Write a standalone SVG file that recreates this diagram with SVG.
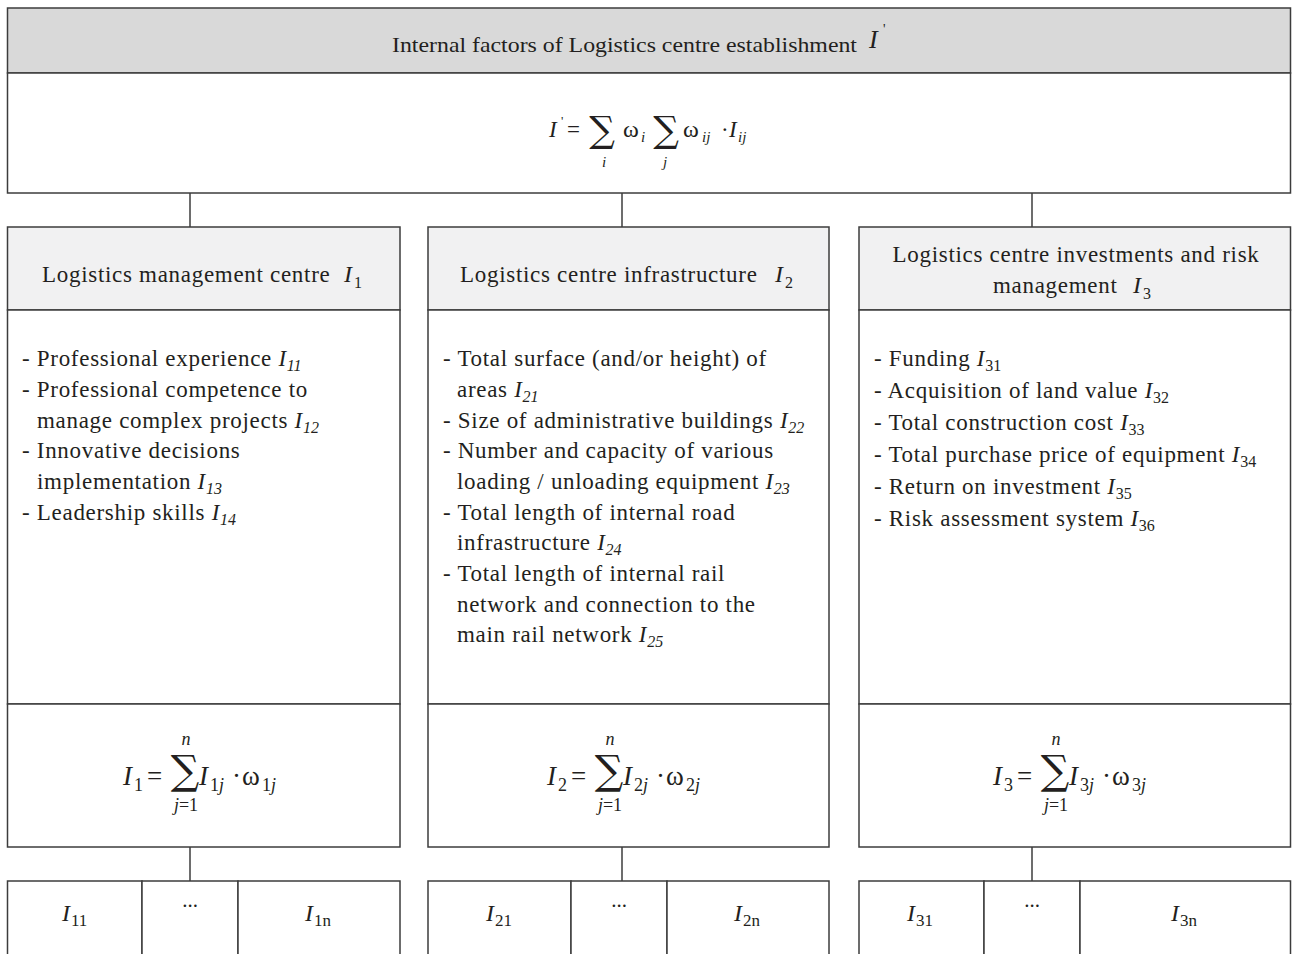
<svg xmlns="http://www.w3.org/2000/svg" width="1293" height="954" viewBox="0 0 1293 954">
<style>
.t{font-family:"Liberation Serif","Times New Roman",serif;font-size:21px;fill:#231f20}
.b{font-size:23px;letter-spacing:0.7px}
.i{font-style:italic}
.s{font-size:16px;letter-spacing:0}
.f{font-size:27px}
.fs{font-size:18px}
.sig{font-family:"DejaVu Serif","Liberation Serif",serif;fill:#231f20}
.box{fill:#ffffff;stroke:#3c3c3c;stroke-width:1.5}
.hd{fill:#d9d9d9;stroke:#3c3c3c;stroke-width:1.5}
.sh{fill:#f1f1f2;stroke:#3c3c3c;stroke-width:1.5}
.ln{stroke:#3c3c3c;stroke-width:1.5;fill:none}
.c{text-anchor:middle}
</style>

<g id="connectors">
<line class="ln" x1="190" y1="193" x2="190" y2="227"/>
<line class="ln" x1="622" y1="193" x2="622" y2="227"/>
<line class="ln" x1="1032" y1="193" x2="1032" y2="227"/>
<line class="ln" x1="190" y1="847" x2="190" y2="881"/>
<line class="ln" x1="622" y1="847" x2="622" y2="881"/>
<line class="ln" x1="1032" y1="847" x2="1032" y2="881"/>
</g>

<g id="top">
<rect class="hd" x="7.5" y="8" width="1283" height="65"/>
<rect class="box" x="7.5" y="73" width="1283" height="120"/>
<text class="t" x="392" y="52" style="font-size:22px" textLength="465" lengthAdjust="spacingAndGlyphs">Internal factors of Logistics centre establishment</text>
<text class="t i" x="869" y="48" style="font-size:26px">I</text>
<text class="t" x="883" y="34" style="font-size:14px">'</text>
<!-- main formula -->
<text class="t i" x="549" y="137" style="font-size:23px">I</text>
<text class="t" x="561" y="125" style="font-size:13px">'</text>
<text class="t" x="567" y="137" style="font-size:23px">=</text>
<text class="sig c" x="602" y="142" style="font-size:36px">∑</text>
<text class="t" x="623" y="137" style="font-size:24px">ω</text>
<text class="t i" x="641" y="142" style="font-size:15px">i</text>
<text class="sig c" x="666" y="142" style="font-size:36px">∑</text>
<text class="t" x="683" y="137" style="font-size:24px">ω</text>
<text class="t i" x="702" y="142" style="font-size:15px">ij</text>
<text class="t" x="721" y="137" style="font-size:23px">·</text>
<text class="t i" x="729" y="137" style="font-size:23px">I</text>
<text class="t i" x="738" y="142" style="font-size:15px">ij</text>
<text class="t i c" x="604" y="167" style="font-size:15px">i</text>
<text class="t i c" x="665" y="167" style="font-size:15px">j</text>
</g>

<g id="col1">
<rect class="sh" x="7.5" y="227" width="392.5" height="83"/>
<rect class="box" x="7.5" y="310" width="392.5" height="394"/>
<text class="t b" x="42" y="282">Logistics management centre</text>
<text class="t i" x="344" y="282" style="font-size:24px">I</text>
<text class="t" x="354" y="288" style="font-size:16px">1</text>
<text class="t b" x="22" y="366">- Professional experience <tspan class="i">I</tspan><tspan class="i s" dy="5">11</tspan></text>
<text class="t b" x="22" y="397">- Professional competence to</text>
<text class="t b" x="37" y="428">manage complex projects <tspan class="i">I</tspan><tspan class="i s" dy="5">12</tspan></text>
<text class="t b" x="22" y="458">- Innovative decisions</text>
<text class="t b" x="37" y="489">implementation <tspan class="i">I</tspan><tspan class="i s" dy="5">13</tspan></text>
<text class="t b" x="22" y="520">- Leadership skills <tspan class="i">I</tspan><tspan class="i s" dy="5">14</tspan></text>
</g>

<g id="col2">
<rect class="sh" x="428" y="227" width="401" height="83"/>
<rect class="box" x="428" y="310" width="401" height="394"/>
<text class="t b" x="460" y="282">Logistics centre infrastructure</text>
<text class="t i" x="775" y="282" style="font-size:24px">I</text>
<text class="t" x="785" y="288" style="font-size:16px">2</text>
<text class="t b" x="443" y="366">- Total surface (and/or height) of</text>
<text class="t b" x="457" y="397">areas <tspan class="i">I</tspan><tspan class="i s" dy="5">21</tspan></text>
<text class="t b" x="443" y="428">- Size of administrative buildings <tspan class="i">I</tspan><tspan class="i s" dy="5">22</tspan></text>
<text class="t b" x="443" y="458">- Number and capacity of various</text>
<text class="t b" x="457" y="489">loading / unloading equipment <tspan class="i">I</tspan><tspan class="i s" dy="5">23</tspan></text>
<text class="t b" x="443" y="520">- Total length of internal road</text>
<text class="t b" x="457" y="550">infrastructure <tspan class="i">I</tspan><tspan class="i s" dy="5">24</tspan></text>
<text class="t b" x="443" y="581">- Total length of internal rail</text>
<text class="t b" x="457" y="612">network and connection to the</text>
<text class="t b" x="457" y="642">main rail network <tspan class="i">I</tspan><tspan class="i s" dy="5">25</tspan></text>
</g>

<g id="col3">
<rect class="sh" x="859" y="227" width="431.5" height="83"/>
<rect class="box" x="859" y="310" width="431.5" height="394"/>
<text class="t b c" x="1076" y="262">Logistics centre investments and risk</text>
<text class="t b" x="993" y="293">management</text>
<text class="t i" x="1133" y="293" style="font-size:24px">I</text>
<text class="t" x="1143" y="299" style="font-size:16px">3</text>
<text class="t b" x="874" y="366">- Funding <tspan class="i">I</tspan><tspan class="s" dy="5">31</tspan></text>
<text class="t b" x="874" y="398">- Acquisition of land value <tspan class="i">I</tspan><tspan class="s" dy="5">32</tspan></text>
<text class="t b" x="874" y="430">- Total construction cost <tspan class="i">I</tspan><tspan class="s" dy="5">33</tspan></text>
<text class="t b" x="874" y="462">- Total purchase price of equipment <tspan class="i">I</tspan><tspan class="s" dy="5">34</tspan></text>
<text class="t b" x="874" y="494">- Return on investment <tspan class="i">I</tspan><tspan class="s" dy="5">35</tspan></text>
<text class="t b" x="874" y="526">- Risk assessment system <tspan class="i">I</tspan><tspan class="s" dy="5">36</tspan></text>
</g>

<g id="formula1">
<rect class="box" x="7.5" y="704" width="392.5" height="143"/>
<text class="t i f" x="123" y="785">I</text>
<text class="t fs" x="134" y="791">1</text>
<text class="t f" x="147" y="785">=</text>
<text class="sig c" x="185" y="784" style="font-size:40px">∑</text>
<text class="t i fs c" x="186" y="745">n</text>
<text class="t i f" x="199" y="785">I</text>
<text class="t fs" x="210" y="791">1<tspan class="i">j</tspan></text>
<text class="t f" x="232" y="785">·</text>
<text class="t f" x="242" y="785">ω</text>
<text class="t fs" x="262" y="791">1<tspan class="i">j</tspan></text>
<text class="t fs c" x="186" y="811"><tspan class="i">j</tspan>=1</text>
</g>

<g id="formula2">
<rect class="box" x="428" y="704" width="401" height="143"/>
<text class="t i f" x="547" y="785">I</text>
<text class="t fs" x="558" y="791">2</text>
<text class="t f" x="571" y="785">=</text>
<text class="sig c" x="609" y="784" style="font-size:40px">∑</text>
<text class="t i fs c" x="610" y="745">n</text>
<text class="t i f" x="623" y="785">I</text>
<text class="t fs" x="634" y="791">2<tspan class="i">j</tspan></text>
<text class="t f" x="656" y="785">·</text>
<text class="t f" x="666" y="785">ω</text>
<text class="t fs" x="686" y="791">2<tspan class="i">j</tspan></text>
<text class="t fs c" x="610" y="811"><tspan class="i">j</tspan>=1</text>
</g>

<g id="formula3">
<rect class="box" x="859" y="704" width="431.5" height="143"/>
<text class="t i f" x="993" y="785">I</text>
<text class="t fs" x="1004" y="791">3</text>
<text class="t f" x="1017" y="785">=</text>
<text class="sig c" x="1055" y="784" style="font-size:40px">∑</text>
<text class="t i fs c" x="1056" y="745">n</text>
<text class="t i f" x="1069" y="785">I</text>
<text class="t fs" x="1080" y="791">3<tspan class="i">j</tspan></text>
<text class="t f" x="1102" y="785">·</text>
<text class="t f" x="1112" y="785">ω</text>
<text class="t fs" x="1132" y="791">3<tspan class="i">j</tspan></text>
<text class="t fs c" x="1056" y="811"><tspan class="i">j</tspan>=1</text>
</g>

<g id="cells1">
<rect class="box" x="7.5" y="881" width="134.5" height="80"/>
<rect class="box" x="142" y="881" width="96" height="80"/>
<rect class="box" x="238" y="881" width="162" height="80"/>
<text class="t i" x="62" y="921" style="font-size:24px">I</text>
<text class="t" x="71" y="926" style="font-size:17px">11</text>
<text class="t c" x="190" y="907">...</text>
<text class="t i" x="305" y="921" style="font-size:24px">I</text>
<text class="t" x="314" y="926" style="font-size:17px">1n</text>
</g>

<g id="cells2">
<rect class="box" x="428" y="881" width="143" height="80"/>
<rect class="box" x="571" y="881" width="96" height="80"/>
<rect class="box" x="667" y="881" width="162" height="80"/>
<text class="t i" x="486" y="921" style="font-size:24px">I</text>
<text class="t" x="495" y="926" style="font-size:17px">21</text>
<text class="t c" x="619" y="907">...</text>
<text class="t i" x="734" y="921" style="font-size:24px">I</text>
<text class="t" x="743" y="926" style="font-size:17px">2n</text>
</g>

<g id="cells3">
<rect class="box" x="859" y="881" width="125" height="80"/>
<rect class="box" x="984" y="881" width="96" height="80"/>
<rect class="box" x="1080" y="881" width="210.5" height="80"/>
<text class="t i" x="907" y="921" style="font-size:24px">I</text>
<text class="t" x="916" y="926" style="font-size:17px">31</text>
<text class="t c" x="1032" y="907">...</text>
<text class="t i" x="1171" y="921" style="font-size:24px">I</text>
<text class="t" x="1180" y="926" style="font-size:17px">3n</text>
</g>
</svg>
